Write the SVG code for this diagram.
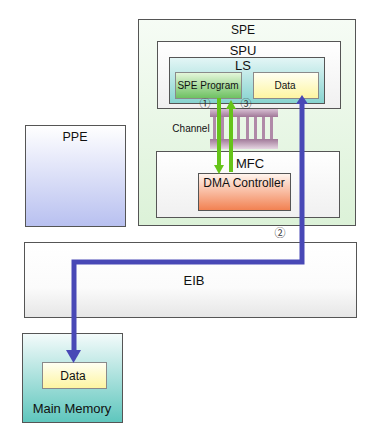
<svg xmlns="http://www.w3.org/2000/svg" width="377" height="444" viewBox="0 0 377 444">
<defs>
<linearGradient id="gSPE" x1="0" y1="0" x2="0" y2="1"><stop offset="0" stop-color="#f6fcf5"/><stop offset="1" stop-color="#dcf2d8"/></linearGradient>
<linearGradient id="gGrey" x1="0" y1="0" x2="0" y2="1"><stop offset="0" stop-color="#ffffff"/><stop offset="1" stop-color="#f0f0f0"/></linearGradient>
<linearGradient id="gLS" x1="0" y1="0" x2="0" y2="1"><stop offset="0" stop-color="#e4f6f6"/><stop offset="1" stop-color="#86d3cf"/></linearGradient>
<linearGradient id="gProg" x1="0" y1="0" x2="0" y2="1"><stop offset="0" stop-color="#e6f7dc"/><stop offset="1" stop-color="#6cc060"/></linearGradient>
<linearGradient id="gData" x1="0" y1="0" x2="0" y2="1"><stop offset="0" stop-color="#fffff4"/><stop offset="1" stop-color="#fdf5a0"/></linearGradient>
<linearGradient id="gDMA" x1="0" y1="0" x2="0" y2="1"><stop offset="0" stop-color="#fff6f0"/><stop offset="1" stop-color="#f28050"/></linearGradient>
<linearGradient id="gPPE" x1="0" y1="0" x2="0" y2="1"><stop offset="0" stop-color="#ffffff"/><stop offset="1" stop-color="#b8c0f0"/></linearGradient>
<linearGradient id="gEIB" x1="0" y1="0" x2="0" y2="1"><stop offset="0" stop-color="#ffffff"/><stop offset="0.6" stop-color="#fbfbfb"/><stop offset="1" stop-color="#e6e6e6"/></linearGradient>
<linearGradient id="gMM" x1="0" y1="0" x2="0" y2="1"><stop offset="0" stop-color="#f4fbfb"/><stop offset="1" stop-color="#5ec6bd"/></linearGradient>
<linearGradient id="gCh" x1="0" y1="0" x2="0" y2="1"><stop offset="0" stop-color="#d8c0d4"/><stop offset="1" stop-color="#a07898"/></linearGradient>
<linearGradient id="gChB" x1="0" y1="0" x2="0" y2="1"><stop offset="0" stop-color="#a07898"/><stop offset="1" stop-color="#e6d6e2"/></linearGradient>
</defs>
<style>
.box{stroke:#555555;stroke-width:1}
.inner{stroke:#8a8a8a;stroke-width:1}
.t{font-family:"Liberation Sans",Arial,sans-serif;fill:#111;text-anchor:middle}
.n{font-family:"Noto Sans CJK JP","DejaVu Sans",sans-serif;fill:#333;font-size:11px;text-anchor:middle}
.green{stroke:#66c41a;stroke-width:4;fill:none}
.blue{stroke:#4848b6;stroke-width:5;fill:none;stroke-linejoin:miter}
</style>
<rect width="377" height="444" fill="#ffffff"/>

<g id="spe">
<rect class="box" x="138.5" y="19.5" width="217" height="206" fill="url(#gSPE)"/>
<text class="t" x="243" y="34" font-size="12">SPE</text>
</g>
<g id="spu">
<rect class="box" x="157.5" y="41.5" width="183" height="67" fill="url(#gGrey)"/>
<text class="t" x="243" y="55" font-size="13">SPU</text>
</g>
<g id="ls">
<rect class="box" x="169.5" y="57.5" width="155" height="46" fill="url(#gLS)"/>
<text class="t" x="243" y="70" font-size="13">LS</text>
</g>
<g id="spe-program">
<rect class="inner" x="175.5" y="72.5" width="66" height="26" fill="url(#gProg)"/>
<text class="t" x="208" y="89" font-size="10">SPE Program</text>
</g>
<g id="ls-data">
<rect class="inner" x="253.5" y="72.5" width="65" height="26" fill="url(#gData)"/>
<text class="t" x="285" y="89" font-size="10">Data</text>
</g>
<g id="mfc">
<rect class="box" x="156.5" y="151.5" width="183" height="66" fill="url(#gGrey)"/>
<text class="t" x="250" y="168" font-size="13">MFC</text>
</g>
<g id="dma">
<rect class="box" x="198.5" y="173.5" width="92" height="37" fill="url(#gDMA)"/>
<text class="t" x="244" y="187" font-size="12">DMA Controller</text>
</g>
<g id="channel">
<rect x="210" y="109" width="68" height="8" fill="url(#gCh)"/>
<g fill="#b08aa8">
<rect x="213" y="117" width="3" height="22"/>
<rect x="221" y="117" width="3" height="22"/>
<rect x="229" y="117" width="3" height="22"/>
<rect x="237" y="117" width="3" height="22"/>
<rect x="246" y="117" width="3" height="22"/>
<rect x="254" y="117" width="3" height="22"/>
<rect x="262" y="117" width="3" height="22"/>
<rect x="270" y="117" width="3" height="22"/>
</g>
<rect x="210" y="139" width="68" height="10" fill="url(#gChB)"/>
<text class="t" x="191" y="132" font-size="10">Channel</text>
</g>
<g id="ppe">
<rect class="box" x="25.5" y="125.5" width="100" height="101" fill="url(#gPPE)"/>
<text class="t" x="75" y="141" font-size="12.5">PPE</text>
</g>
<g id="eib">
<rect class="box" x="24.5" y="242.5" width="332" height="75" fill="url(#gEIB)"/>
<text class="t" x="194" y="285" font-size="13">EIB</text>
</g>
<g id="main-memory">
<rect class="box" x="22.5" y="333.5" width="100" height="89" fill="url(#gMM)"/>
<text class="t" x="72" y="413" font-size="13">Main Memory</text>
</g>
<g id="mm-data">
<rect class="inner" x="42.5" y="362.5" width="64" height="26" fill="url(#gData)"/>
<text class="t" x="73" y="380" font-size="12">Data</text>
</g>

<g id="connectors">
<line class="green" x1="219" y1="98" x2="219" y2="166"/>
<polygon points="214,165 224,165 219,174" fill="#66c41a"/>
<line class="green" x1="231" y1="172" x2="231" y2="108"/>
<polygon points="226,109 236,109 231,100" fill="#66c41a"/>
<polyline class="blue" points="302,103 302,262 74,262 74,351"/>
<polygon points="296,104 308,104 302,95" fill="#4848b6"/>
<polygon points="66,350 81,350 73.5,363" fill="#4848b6"/>
<text class="n" x="205" y="108">①</text>
<text class="n" x="246" y="108">③</text>
<text class="n" x="280" y="237">②</text>
</g>
</svg>
